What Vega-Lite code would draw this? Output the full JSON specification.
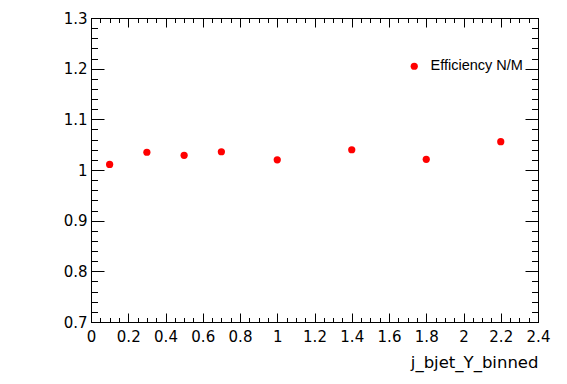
{
  "$schema": "https://vega.github.io/schema/vega-lite/v6.json",
  "autosize": "none",
  "width": 447,
  "height": 304,
  "padding": {"left": 91, "top": 18, "right": 29, "bottom": 62},
  "background": "white",
  "view": {"stroke": "black", "strokeWidth": 1},
  "config": {
    "axis": {"grid": false, "domainColor": "black", "domainWidth": 1, "tickColor": "black", "tickWidth": 1, "labelColor": "black", "titleColor": "black", "labelFont": "DejaVu Sans", "titleFont": "DejaVu Sans", "labelOverlap": false}
  },
  "data": {"values": [
    {"x": 0.1, "y": 1.011, "series": "Efficiency N/M"},
    {"x": 0.3, "y": 1.035, "series": "Efficiency N/M"},
    {"x": 0.5, "y": 1.029, "series": "Efficiency N/M"},
    {"x": 0.7, "y": 1.036, "series": "Efficiency N/M"},
    {"x": 1.0, "y": 1.020, "series": "Efficiency N/M"},
    {"x": 1.4, "y": 1.040, "series": "Efficiency N/M"},
    {"x": 1.8, "y": 1.021, "series": "Efficiency N/M"},
    {"x": 2.2, "y": 1.056, "series": "Efficiency N/M"}
  ]},
  "resolve": {"axis": {"x": "independent", "y": "independent"}},
  "layer": [
    {
      "mark": {"type": "point", "filled": true, "opacity": 1, "size": 52},
      "encoding": {
        "x": {"field": "x", "type": "quantitative",
          "scale": {"domain": [0, 2.4], "nice": false, "zero": false},
          "axis": {"orient": "bottom", "values": [0, 0.2, 0.4, 0.6, 0.8, 1, 1.2, 1.4, 1.6, 1.8, 2, 2.2, 2.4], "format": "~g", "tickSize": -9, "labelPadding": 16, "labelFontSize": 15, "labelFlush": false,
            "title": "j_bjet_Y_binned", "titleFontSize": 16.5, "titleFontWeight": "normal", "titleX": 447, "titleY": 45, "titleAlign": "right", "titleBaseline": "alphabetic"}},
        "y": {"field": "y", "type": "quantitative",
          "scale": {"domain": [0.7, 1.3], "nice": false, "zero": false},
          "axis": {"orient": "left", "values": [0.7, 0.8, 0.9, 1, 1.1, 1.2, 1.3], "format": "~g", "tickSize": -13, "labelPadding": 17, "labelFontSize": 15, "labelFlush": false, "title": null}},
        "color": {"field": "series", "type": "nominal",
          "scale": {"range": ["#ff0000"]},
          "legend": {"orient": "none", "legendX": 316, "legendY": 41, "title": null, "padding": 0, "symbolType": "circle", "symbolSize": 52, "symbolStrokeWidth": 0, "symbolFillColor": "#ff0000", "labelFont": "Liberation Sans", "labelFontSize": 14.5, "labelColor": "black", "labelOffset": 9}}
      }
    },
    {
      "mark": {"type": "point", "opacity": 0},
      "encoding": {
        "x": {"field": "x", "type": "quantitative",
          "axis": {"orient": "bottom", "values": [0, 0.05, 0.1, 0.15, 0.2, 0.25, 0.3, 0.35, 0.4, 0.45, 0.5, 0.55, 0.6, 0.65, 0.7, 0.75, 0.8, 0.85, 0.9, 0.95, 1, 1.05, 1.1, 1.15, 1.2, 1.25, 1.3, 1.35, 1.4, 1.45, 1.5, 1.55, 1.6, 1.65, 1.7, 1.75, 1.8, 1.85, 1.9, 1.95, 2, 2.05, 2.1, 2.15, 2.2, 2.25, 2.3, 2.35, 2.4], "tickSize": -4.5, "labels": false, "title": null}},
        "y": {"field": "y", "type": "quantitative",
          "axis": {"orient": "left", "values": [0.7, 0.72, 0.74, 0.76, 0.78, 0.8, 0.82, 0.84, 0.86, 0.88, 0.9, 0.92, 0.94, 0.96, 0.98, 1, 1.02, 1.04, 1.06, 1.08, 1.1, 1.12, 1.14, 1.16, 1.18, 1.2, 1.22, 1.24, 1.26, 1.28, 1.3], "tickSize": -6.5, "labels": false, "title": null}}
      }
    },
    {
      "mark": {"type": "point", "opacity": 0},
      "encoding": {
        "x": {"field": "x", "type": "quantitative",
          "axis": {"orient": "top", "values": [0, 0.2, 0.4, 0.6, 0.8, 1, 1.2, 1.4, 1.6, 1.8, 2, 2.2, 2.4], "tickSize": -9, "labels": false, "title": null}},
        "y": {"field": "y", "type": "quantitative",
          "axis": {"orient": "right", "values": [0.7, 0.8, 0.9, 1, 1.1, 1.2, 1.3], "tickSize": -13, "labels": false, "title": null}}
      }
    },
    {
      "mark": {"type": "point", "opacity": 0},
      "encoding": {
        "x": {"field": "x", "type": "quantitative",
          "axis": {"orient": "top", "values": [0, 0.05, 0.1, 0.15, 0.2, 0.25, 0.3, 0.35, 0.4, 0.45, 0.5, 0.55, 0.6, 0.65, 0.7, 0.75, 0.8, 0.85, 0.9, 0.95, 1, 1.05, 1.1, 1.15, 1.2, 1.25, 1.3, 1.35, 1.4, 1.45, 1.5, 1.55, 1.6, 1.65, 1.7, 1.75, 1.8, 1.85, 1.9, 1.95, 2, 2.05, 2.1, 2.15, 2.2, 2.25, 2.3, 2.35, 2.4], "tickSize": -4.5, "labels": false, "title": null}},
        "y": {"field": "y", "type": "quantitative",
          "axis": {"orient": "right", "values": [0.7, 0.72, 0.74, 0.76, 0.78, 0.8, 0.82, 0.84, 0.86, 0.88, 0.9, 0.92, 0.94, 0.96, 0.98, 1, 1.02, 1.04, 1.06, 1.08, 1.1, 1.12, 1.14, 1.16, 1.18, 1.2, 1.22, 1.24, 1.26, 1.28, 1.3], "tickSize": -6.5, "labels": false, "title": null}}
      }
    }
  ]
}
